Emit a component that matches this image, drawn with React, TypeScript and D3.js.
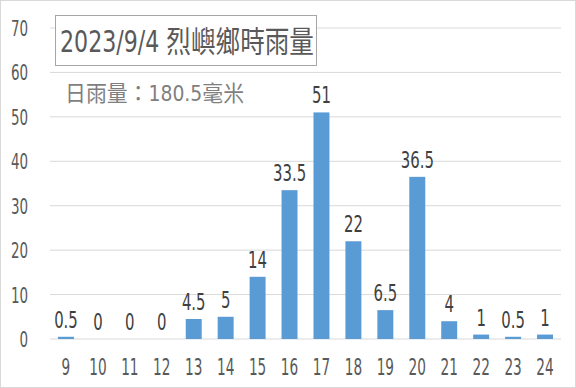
import React from "react";
import * as d3 from "d3";

const hours = ["9", "10", "11", "12", "13", "14", "15", "16", "17", "18", "19", "20", "21", "22", "23", "24"];
const rain = [0.5, 0, 0, 0, 4.5, 5, 14, 33.5, 51, 22, 6.5, 36.5, 4, 1, 0.5, 1];
const yTicks = [0, 10, 20, 30, 40, 50, 60, 70];
const title = "2023/9/4 烈嶼鄉時雨量";
const subtitle = "日雨量：180.5毫米";

const W = 576;
const H = 388;
const font = "'DejaVu Sans Condensed', 'Noto Sans CJK TC', sans-serif";

const App = () => {
    const left = 50;
    const right = 561;
    const top = 28;
    const bottom = 339;

    const x = d3.scaleBand().domain(hours).range([left, right]).paddingInner(0.5).paddingOuter(0.25);
    const y = d3.scaleLinear().domain([0, 70]).range([bottom, top]);

    return (
        <svg width={W} height={H} style={{position: "absolute", left: 0, top: 0}} fontFamily={font}>
            <rect x={0.5} y={0.5} width={W - 1} height={H - 1} fill="white" stroke="#d9d9d9" />
            {yTicks.map(t => (
                <g key={t}>
                    <line x1={left} x2={right} y1={y(t)} y2={y(t)} stroke="#d9d9d9" strokeWidth={1} />
                    <text transform={`translate(28,${y(t) + 8}) scale(0.68,1)`} textAnchor="end"
                          fontSize={22} fill="#595959">
                        {t}
                    </text>
                </g>
            ))}
            {rain.map((v, i) => (
                <rect key={hours[i]} x={x(hours[i])} y={y(v)} width={x.bandwidth()}
                      height={bottom - y(v)} fill="#5b9bd5" />
            ))}
            {rain.map((v, i) => {
                const cx = (x(hours[i]) as number) + x.bandwidth() / 2;
                return (
                    <text key={"l" + i} transform={`translate(${cx},${y(v) - 9}) scale(0.72,1)`}
                          textAnchor="middle" fontSize={23} fill="#404040">
                        {v}
                    </text>
                );
            })}
            {hours.map(h => {
                const cx = (x(h) as number) + x.bandwidth() / 2;
                return (
                    <text key={"x" + h} transform={`translate(${cx},375) scale(0.66,1)`}
                          textAnchor="middle" fontSize={23} fill="#595959">
                        {h}
                    </text>
                );
            })}
            <rect x={55.5} y={15.5} width={261} height={50} fill="white" stroke="#a6a6a6" />
            <text transform="translate(60,52) scale(0.82,1)" fontSize={30} fill="#595959">{title}</text>
            <text transform="translate(65,101) scale(0.95,1)" fontSize={22} fill="#7f7f7f">{subtitle}</text>
        </svg>
    );
};

export default App;
